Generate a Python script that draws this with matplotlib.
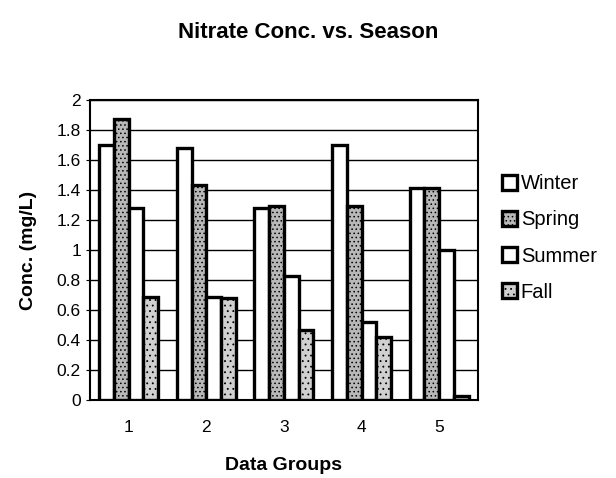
import numpy as np
import matplotlib.pyplot as plt

groups = ['1', '2', '3', '4', '5']
winter = [1.70, 1.68, 1.28, 1.70, 1.41]
spring = [1.87, 1.43, 1.29, 1.29, 1.41]
summer = [1.28, 0.69, 0.83, 0.52, 1.00]
fall = [0.69, 0.68, 0.47, 0.42, 0.03]

series = [('Winter', winter, 'white', None),
          ('Spring', spring, '#b8b8b8', '....'),
          ('Summer', summer, 'white', None),
          ('Fall', fall, '#d0d0d0', '...')]

plt.rcParams['font.family'] = ['Liberation Sans', 'DejaVu Sans']
plt.rcParams['hatch.color'] = '#7a7a7a'
plt.rcParams['hatch.linewidth'] = 0.6

fig = plt.figure(figsize=(6.16, 4.78), dpi=100)
ax = fig.add_axes([0.146, 0.163, 0.63, 0.628])

x = np.arange(len(groups))
w = 0.19
for i, (name, vals, col, hatch) in enumerate(series):
    ax.bar(x + (i - 1.5) * w, vals, w, color=col, edgecolor='black',
           linewidth=2.4, hatch=hatch, label=name, zorder=3)

ax.set_ylim(0, 2)
ax.set_xlim(-0.5, 4.5)
ax.set_yticks(np.arange(0, 2.01, 0.2))
ax.set_yticklabels(['0', '0.2', '0.4', '0.6', '0.8', '1', '1.2', '1.4', '1.6', '1.8', '2'])
ax.set_xticks(x)
ax.set_xticklabels(groups)
ax.tick_params(axis='both', labelsize=12.5, length=3)
ax.tick_params(axis='x', length=0, pad=14)
ax.yaxis.grid(True, color='black', linewidth=1.0, zorder=0)
ax.set_axisbelow(True)
for s in ax.spines.values():
    s.set_linewidth(1.5)

ax.set_xlabel('Data Groups', fontsize=14, fontweight='bold', labelpad=16)
ax.set_ylabel('Conc. (mg/L)', fontsize=14, fontweight='bold', labelpad=14)
fig.suptitle('Nitrate Conc. vs. Season', fontsize=16, fontweight='bold', y=0.955)

leg = ax.legend(loc='center left', bbox_to_anchor=(1.04, 0.54), frameon=False,
                fontsize=14.5, handlelength=0.75, handleheight=0.75,
                handletextpad=0.2, labelspacing=0.85, borderaxespad=0)

fig.savefig('out.png', dpi=100)
